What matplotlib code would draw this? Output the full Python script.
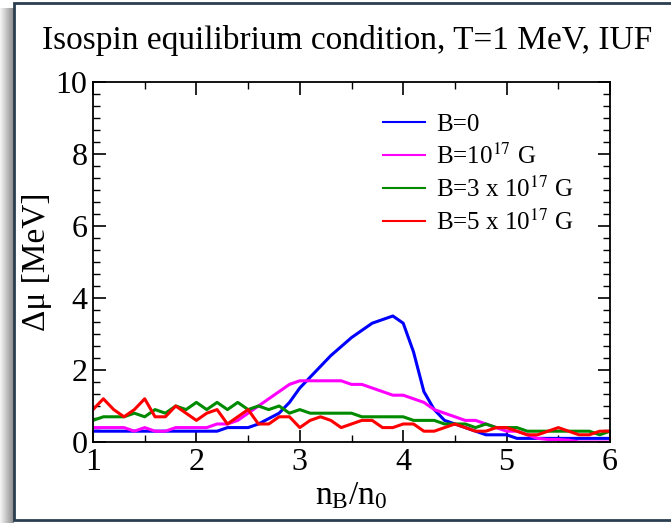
import numpy as np
import matplotlib
matplotlib.use('Agg')
import matplotlib.pyplot as plt
from matplotlib.patches import Rectangle
from matplotlib.ticker import MultipleLocator, AutoMinorLocator

plt.rcParams['font.family'] = ['Liberation Serif', 'DejaVu Serif']
plt.rcParams['mathtext.fontset'] = 'stix'

# 数据：n_B/n_0 从 1.0 到 6.0，步长 0.1
n_ratio = np.round(np.arange(1.0, 6.01, 0.1), 1)

mu_b0 = [0.3] * 13 + [0.4, 0.4, 0.4,
         0.5, 0.65, 0.8, 1.1, 1.5, 1.8, 2.1, 2.4, 2.65, 2.9, 3.1, 3.3, 3.4, 3.5,
         3.3, 2.5, 1.4, 0.9, 0.6, 0.5, 0.4, 0.3, 0.2, 0.2, 0.2] + [0.1] * 10

mu_b1 = [0.4, 0.4, 0.4, 0.4, 0.3, 0.4, 0.3, 0.3, 0.4, 0.4,
         0.4, 0.4, 0.5, 0.5, 0.6, 0.8, 1.0, 1.2, 1.4, 1.6,
         1.7, 1.7, 1.7, 1.7, 1.7, 1.6, 1.6, 1.5, 1.4, 1.3,
         1.3, 1.2, 1.1, 0.9, 0.8, 0.7, 0.6, 0.6, 0.5, 0.4,
         0.3, 0.3, 0.2, 0.1, 0.07, 0.07, 0.05, 0.0, 0.0, 0.0, 0.0]

mu_b3 = [0.6, 0.7, 0.7, 0.7, 0.8, 0.7, 0.9, 0.8, 1.0, 0.9,
         1.1, 0.9, 1.1, 0.9, 1.1, 0.9, 1.0, 0.9, 1.0, 0.8,
         0.9, 0.8, 0.8, 0.8, 0.8, 0.8, 0.7, 0.7, 0.7, 0.7,
         0.7, 0.6, 0.6, 0.6, 0.5, 0.5, 0.5, 0.4, 0.5, 0.4,
         0.4, 0.4, 0.3, 0.3, 0.3, 0.3, 0.3, 0.3, 0.3, 0.2, 0.3]

mu_b5 = [0.9, 1.2, 0.9, 0.7, 0.9, 1.2, 0.7, 0.7, 1.0, 0.8,
         0.6, 0.8, 0.9, 0.5, 0.7, 0.9, 0.5, 0.5, 0.7, 0.7,
         0.4, 0.6, 0.7, 0.6, 0.4, 0.5, 0.6, 0.6, 0.4, 0.4,
         0.5, 0.5, 0.3, 0.3, 0.4, 0.5, 0.4, 0.3, 0.3, 0.4,
         0.4, 0.3, 0.2, 0.2, 0.3, 0.4, 0.3, 0.2, 0.2, 0.3, 0.3]

labels = ['B=0', 'B=10$^{17}$ G', 'B=3 x 10$^{17}$ G', 'B=5 x 10$^{17}$ G']
colors = ['#0000ff', '#ff00ff', '#008a00', '#ff0000']

fig = plt.figure(figsize=(6.71, 5.23), dpi=100)

# 左侧阴影（渐变）
W, H = 671.0, 523.0
n_steps = 14
for i in range(n_steps):
    g = 0.95 - 0.4 * (i / (n_steps - 1))
    fig.patches.append(Rectangle((i / W, 0.0), 1.0 / W, 1 - 8 / H, transform=fig.transFigure,
                                 facecolor=(g, g, g), edgecolor='none', zorder=0))
# 外框
fig.patches.append(Rectangle((14 / W, 3 / H), 1.0, 1 - 6 / H, transform=fig.transFigure,
                             facecolor='white', edgecolor='#2b3e50', linewidth=2.0, zorder=1))

ax = fig.add_axes([0.1386, 0.1549, 0.7705, 0.6883])
ax.set_zorder(2)

for y, lab, c in zip([mu_b0, mu_b1, mu_b3, mu_b5], labels, colors):
    ax.plot(n_ratio, y, color=c, linewidth=2.2, label=lab)

ax.set_xlim(1, 6)
ax.set_ylim(0, 10)
ax.xaxis.set_major_locator(MultipleLocator(1))
ax.xaxis.set_minor_locator(AutoMinorLocator(2))
ax.yaxis.set_major_locator(MultipleLocator(2))
ax.yaxis.set_minor_locator(AutoMinorLocator(6))
ax.tick_params(which='both', direction='in', top=True, right=True, labelsize=23, pad=4)
ax.tick_params(which='major', length=9, width=1.2)
ax.tick_params(which='minor', length=5, width=1.0)
for s in ax.spines.values():
    s.set_linewidth(1.3)

ax.set_xlabel('$\\mathregular{n_B/n_0}$', fontsize=24, labelpad=3)
ax.set_ylabel('Δμ [MeV]', fontsize=24)
ax.yaxis.set_label_coords(-0.079, 0.5)

fig.text(0.517, 0.922, 'Isospin equilibrium condition, T=1 MeV, IUF',
         ha='center', va='center', fontsize=24)

leg = ax.legend(loc='upper left', bbox_to_anchor=(0.56, 0.913), frameon=False,
                fontsize=18, handlelength=1.7, handletextpad=0.45,
                labelspacing=0.3, borderaxespad=0, borderpad=0)
for line in leg.get_lines():
    line.set_linewidth(1.5)

fig.savefig('out.png', dpi=100)
